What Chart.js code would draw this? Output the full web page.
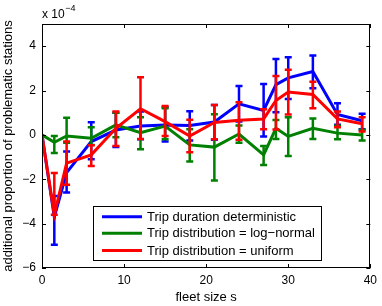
<!DOCTYPE html>
<html><head><meta charset="utf-8">
<script src="https://cdn.jsdelivr.net/npm/chart.js"></script>
<style>html,body{margin:0;padding:0;background:#fff;}#wrap{position:relative;width:382px;height:306px;}</style>
</head><body><div id="wrap"><canvas id="c" width="382" height="306"></canvas></div>
<script>
// ---- data (values in units of 1e-4) ----
const fleetSizes = [0, 1.5, 3, 6, 9, 12, 15, 18, 21, 24, 27, 28.5, 30, 33, 36, 39];
const seriesLabels = ["Trip duration deterministic", "Trip distribution = log\u2212normal", "Trip distribution = uniform"];
const detMean  = [0, -3.7, -1.7, -0.3, 0.22, 0.4, 0.45, 0.42, 0.58, 1.4, 1.1, 2.27, 2.57, 2.86, 0.92, 0.64];
const detUpper = [null, -2.75, -0.75, 0.57, 1.0, 1.05, 1.25, 1.07, 1.35, 2.2, 2.3, 3.42, 3.5, 3.58, 1.43, 0.95];
const detLower = [null, -4.95, -2.6, -1.1, -0.55, -0.2, -0.3, -0.25, -0.22, 0.6, -0.07, 1.02, 1.62, 2.1, 0.46, 0.26];
const logMean  = [0, -0.33, -0.05, -0.15, 0.45, 0.1, 0.4, -0.45, -0.55, 0.04, -0.9, 0.3, -0.07, 0.3, 0.08, 0];
const logUpper = [null, -0.05, 0.77, 0.35, 1.0, 0.8, 1.2, 0.25, 0.93, 0.42, -0.5, 0.67, 0.8, 0.74, 0.41, 0.23];
const logLower = [null, -0.82, -0.35, -0.45, -0.1, -0.65, -0.2, -1.2, -2.06, -0.35, -1.36, -0.18, -0.95, -0.18, -0.2, -0.25];
const uniMean  = [0, -3.6, -1.27, -0.9, 0.3, 1.18, 0.6, -0.05, 0.56, 0.66, 0.72, 1.55, 1.93, 1.82, 0.72, 0.5];
const uniUpper = [null, -1.72, -0.3, -0.47, 1.05, 2.6, 1.3, 0.68, 1.35, 1.47, 1.16, 2.66, 2.94, 2.4, 1.05, 0.8];
const uniLower = [null, -3.6, -2.25, -1.4, -0.5, -0.18, -0.05, -0.78, -0.2, -0.22, 0.26, 0.24, 0.92, 1.2, 0.35, 0.15];
const xTicks = [0, 10, 20, 30, 40];
const yTicks = [-6, -4, -2, 0, 2, 4];

const FONT = '"Liberation Sans", Arial, Helvetica, sans-serif';
const colors = ['#0000ff', '#008000', '#ff0000'];
const means = [detMean, logMean, uniMean];
const uppers = [detUpper, logUpper, uniUpper];
const lowers = [detLower, logLower, uniLower];

const datasets = means.map((m, i) => ({
  label: seriesLabels[i],
  data: fleetSizes.map((x, j) => ({x: x, y: m[j]})),
  borderColor: colors[i],
  backgroundColor: colors[i],
  borderWidth: 3,
  pointRadius: 0,
  tension: 0,
  fill: false,
  order: 3 - i
}));

const decor = {
  id: 'decor',
  afterDatasetDraw(chart, args) {
    const i = args.index;
    const ctx = chart.ctx, xs = chart.scales.x, ys = chart.scales.y;
    ctx.save();
    ctx.strokeStyle = colors[i];
    ctx.lineWidth = 2.5;
    ctx.lineCap = 'butt';
    fleetSizes.forEach((x, j) => {
      const u = uppers[i][j], l = lowers[i][j];
      if (u === null || l === null) return;
      const px = xs.getPixelForValue(x);
      const pu = ys.getPixelForValue(u), pl = ys.getPixelForValue(l);
      ctx.beginPath();
      ctx.moveTo(px, pu); ctx.lineTo(px, pl);
      ctx.moveTo(px - 3.5, pu); ctx.lineTo(px + 3.5, pu);
      ctx.moveTo(px - 3.5, pl); ctx.lineTo(px + 3.5, pl);
      ctx.stroke();
    });
    ctx.restore();
  },
  afterDraw(chart) {
    const ctx = chart.ctx, a = chart.chartArea, xs = chart.scales.x, ys = chart.scales.y;
    ctx.save();
    // frame
    ctx.strokeStyle = '#000'; ctx.lineWidth = 1;
    ctx.strokeRect(Math.round(a.left) + 0.5, Math.round(a.top) + 0.5, Math.round(a.right - a.left) - 1, Math.round(a.bottom - a.top) - 1);
    // inward ticks
    ctx.beginPath();
    xTicks.forEach(v => {
      const px = Math.round(xs.getPixelForValue(v)) + 0.5;
      ctx.moveTo(px, a.bottom); ctx.lineTo(px, a.bottom - 4);
      ctx.moveTo(px, a.top); ctx.lineTo(px, a.top + 4);
    });
    yTicks.forEach(v => {
      const py = Math.round(ys.getPixelForValue(v)) + 0.5;
      ctx.moveTo(a.left, py); ctx.lineTo(a.left + 4, py);
      ctx.moveTo(a.right, py); ctx.lineTo(a.right - 4, py);
    });
    ctx.stroke();
    // exponent label
    ctx.fillStyle = '#000';
    ctx.textBaseline = 'alphabetic';
    ctx.textAlign = 'left';
    ctx.font = '12px ' + FONT;
    ctx.fillText('x 10', a.left, 18);
    const w = ctx.measureText('x 10').width;
    ctx.font = '9px ' + FONT;
    ctx.fillText('\u22124', a.left + w + 0.5, 11);
    // legend
    const L = 93, T = 206, R = 322, B = 261;
    ctx.fillStyle = '#fff';
    ctx.fillRect(L, T, R - L, B - T);
    ctx.strokeStyle = '#000'; ctx.lineWidth = 1;
    ctx.strokeRect(L + 0.5, T + 0.5, R - L - 1, B - T - 1);
    const rows = [216.7, 233.3, 250.5];
    ctx.font = '13px ' + FONT;
    ctx.textBaseline = 'middle';
    chart.data.datasets.forEach((ds, k) => {
      ctx.strokeStyle = ds.borderColor; ctx.lineWidth = 3;
      ctx.beginPath(); ctx.moveTo(102, rows[k]); ctx.lineTo(142, rows[k]); ctx.stroke();
      ctx.fillStyle = '#000';
      ctx.fillText(ds.label, 147, rows[k] + 0.5);
    });
    ctx.restore();
  }
};

new Chart(document.getElementById('c'), {
  type: 'line',
  data: { datasets: datasets },
  options: {
    responsive: false,
    devicePixelRatio: 1,
    animation: false,
    layout: { padding: { top: 24, right: 9, left: 0, bottom: 0 } },
    plugins: { legend: { display: false }, tooltip: { enabled: false } },
    scales: {
      x: {
        type: 'linear', min: 0, max: 40,
        afterBuildTicks: s => { s.ticks = xTicks.map(v => ({value: v})); },
        afterFit: s => { s.height = 38; },
        grid: { display: false, drawTicks: false },
        border: { display: false },
        ticks: { color: '#000', font: { family: FONT, size: 12 }, padding: 5, maxRotation: 0 },
        title: { display: true, text: 'fleet size s', color: '#000', font: { family: FONT, size: 13 }, padding: { top: 0, bottom: 1 } }
      },
      y: {
        type: 'linear', min: -6, max: 5,
        afterBuildTicks: s => { s.ticks = yTicks.map(v => ({value: v})); },
        afterFit: s => { s.width = 42; },
        grid: { display: false, drawTicks: false },
        border: { display: false },
        ticks: { color: '#000', font: { family: FONT, size: 12 }, padding: 6,
                 callback: v => String(v).replace('-', '\u2212') },
        title: { display: true, text: 'additional proportion of problematic stations', color: '#000', font: { family: FONT, size: 13 }, padding: { top: 1, bottom: 0 } }
      }
    }
  },
  plugins: [decor]
});
</script>
</body></html>
